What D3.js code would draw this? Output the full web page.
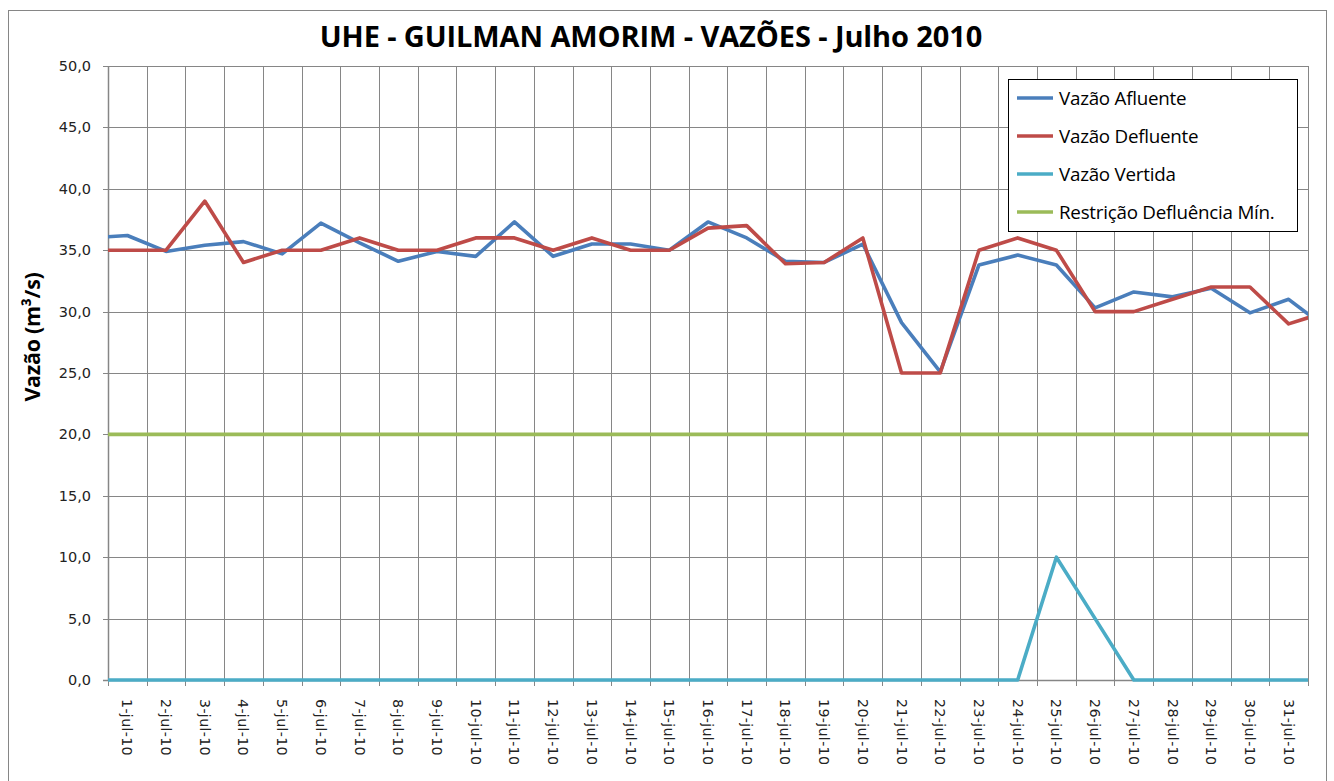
<!DOCTYPE html>
<html><head><meta charset="utf-8">
<script src="https://cdn.jsdelivr.net/npm/d3@7/dist/d3.min.js"></script>
<style>body{margin:0;background:#fff}svg{display:block}</style>
</head><body>
<script>
// Days 0 and 32 are the off-axis neighbours whose segments reach the plot edges (clipped)
const days = d3.range(0, 33);
const dayLabels = d3.range(1, 32).map(d => d + "-jul-10");
const afluente = [36.0, 36.2, 34.9, 35.4, 35.7, 34.7, 37.2, 35.6, 34.1, 34.9, 34.5, 37.3, 34.5, 35.5, 35.5, 35.0, 37.3, 36.0, 34.1, 34.0, 35.5, 29.1, 25.1, 33.8, 34.6, 33.8, 30.3, 31.6, 31.2, 31.9, 29.9, 31.0, 28.6];
const defluente = [35.0, 35.0, 35.0, 39.0, 34.0, 35.0, 35.0, 36.0, 35.0, 35.0, 36.0, 36.0, 35.0, 36.0, 35.0, 35.0, 36.8, 37.0, 33.9, 34.0, 36.0, 25.0, 25.0, 35.0, 36.0, 35.0, 30.0, 30.0, 31.0, 32.0, 32.0, 29.0, 30.0];
const vertida = [0, 0, 0, 0, 0, 0, 0, 0, 0, 0, 0, 0, 0, 0, 0, 0, 0, 0, 0, 0, 0, 0, 0, 0, 0, 10.0, 5.0, 0, 0, 0, 0, 0, 0];
const restricao = days.map(() => 20.0);
const yTicks = [0, 5, 10, 15, 20, 25, 30, 35, 40, 45, 50];
const seriesNames = ["Vazão Afluente", "Vazão Defluente", "Vazão Vertida", "Restrição Defluência Mín."];
const seriesColors = ["#4A7EBB", "#BE4B48", "#4BACC6", "#9BBB59"];
const seriesData = [afluente, defluente, vertida, restricao];

const W = 1334, H = 781;
const L = 108, R = 1308, T = 66, B = 680;
const svg = d3.select("body").append("svg").attr("width", W).attr("height", H);
svg.append("rect").attr("x", 8.5).attr("y", 10.5).attr("width", 1318).attr("height", 790)
  .attr("fill", "#fff").attr("stroke", "#868686").attr("stroke-width", 1);

const x = d3.scaleLinear().domain([0.5, 31.5]).range([L, R]);
const y = d3.scaleLinear().domain([0, 50]).range([B, T]);
const grid = "#868686";

// horizontal grid
svg.append("g").selectAll("line").data(yTicks).join("line")
  .attr("x1", L - 5).attr("x2", R).attr("y1", d => Math.round(y(d)) + 0.5).attr("y2", d => Math.round(y(d)) + 0.5)
  .attr("stroke", grid).attr("stroke-width", 1);
// vertical grid (band boundaries)
const bounds = d3.range(0.5, 32, 1);
svg.append("g").selectAll("line").data(bounds).join("line")
  .attr("x1", d => Math.round(x(d)) + 0.5).attr("x2", d => Math.round(x(d)) + 0.5)
  .attr("y1", T).attr("y2", B + 6).attr("stroke", grid).attr("stroke-width", 1);
// axes lines
svg.append("line").attr("x1", L + 0.5).attr("x2", L + 0.5).attr("y1", T).attr("y2", B).attr("stroke", grid).attr("stroke-width", 1.5);
svg.append("line").attr("x1", L - 5).attr("x2", R).attr("y1", B + 0.5).attr("y2", B + 0.5).attr("stroke", grid).attr("stroke-width", 1.5);

// y tick labels
svg.append("g").selectAll("text").data(yTicks).join("text")
  .attr("x", L - 17).attr("y", d => y(d)).attr("dy", "0.35em").attr("text-anchor", "end")
  .attr("font-family", "DejaVu Sans").attr("font-size", 14.5).attr("fill", "#222")
  .text(d => d3.format(".1f")(d).replace(".", ","));

// x tick labels
svg.append("g").selectAll("text").data(dayLabels).join("text")
  .attr("transform", (d, i) => `translate(${x(i + 1)},${B + 19}) rotate(90)`)
  .attr("dy", "0.35em").attr("text-anchor", "start")
  .attr("font-family", "DejaVu Sans").attr("font-size", 14.2).attr("letter-spacing", 0.35).attr("fill", "#222")
  .text(d => d);

// y axis title
svg.append("text").attr("transform", `translate(40,337) rotate(-90)`)
  .attr("text-anchor", "middle").attr("font-family", "Open Sans").attr("font-weight", "bold")
  .attr("font-size", 21.5).attr("letter-spacing", -0.3).attr("fill", "#000").text("Vazão (m³/s)");

// title
svg.append("text").attr("x", 651).attr("y", 47).attr("text-anchor", "middle")
  .attr("font-family", "Open Sans").attr("font-weight", "bold").attr("font-size", 29)
  .attr("letter-spacing", -0.1).attr("fill", "#000").text("UHE - GUILMAN AMORIM - VAZÕES - Julho 2010");

// clip
svg.append("clipPath").attr("id", "clip").append("rect").attr("x", L).attr("y", 0).attr("width", R - L).attr("height", H);

const line = d3.line().x((d, i) => x(days[i])).y(d => y(d));
const order = [3, 2, 0, 1];
svg.append("g").attr("clip-path", "url(#clip)").selectAll("path").data(order).join("path")
  .attr("d", k => line(seriesData[k])).attr("fill", "none")
  .attr("stroke", k => seriesColors[k]).attr("stroke-width", 3.6).attr("stroke-linejoin", "round");

// legend
const lg = svg.append("g");
lg.append("rect").attr("x", 1008.5).attr("y", 79.5).attr("width", 289).attr("height", 152)
  .attr("fill", "#fff").attr("stroke", "#000").attr("stroke-width", 1);
seriesNames.forEach((n, i) => {
  const yy = 98 + i * 38;
  lg.append("line").attr("x1", 1017).attr("x2", 1053).attr("y1", yy).attr("y2", yy)
    .attr("stroke", seriesColors[i]).attr("stroke-width", 3.6);
  lg.append("text").attr("x", 1059).attr("y", yy).attr("dy", "0.35em")
    .attr("font-family", "Open Sans").attr("font-size", 18.8).attr("letter-spacing", -0.25).attr("fill", "#000").text(n);
});
</script>
</body></html>
